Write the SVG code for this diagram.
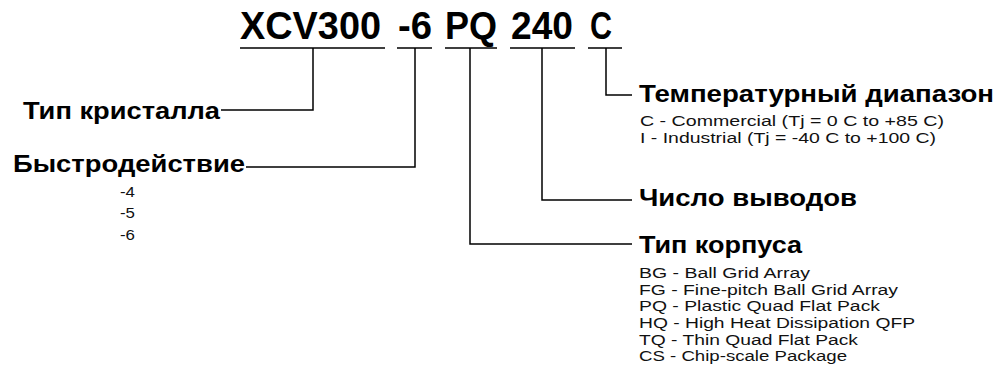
<svg xmlns="http://www.w3.org/2000/svg" width="1008" height="391" viewBox="0 0 1008 391">
<style>
text{font-family:"Liberation Sans",Arial,Helvetica,sans-serif;fill:#000}
.code{font-size:38px;font-weight:bold}
.head{font-size:24px;font-weight:bold}
.sub{font-size:15.5px;fill:#111}
.ln{stroke:#000;stroke-width:1.5;fill:none}
</style>
<rect width="1008" height="391" fill="#fff"/>
<g id="code">
<text class="code" x="240" y="39" textLength="141" lengthAdjust="spacingAndGlyphs">XCV300</text>
<text class="code" x="398" y="39" textLength="34" lengthAdjust="spacingAndGlyphs">-6</text>
<text class="code" x="445" y="39" textLength="52" lengthAdjust="spacingAndGlyphs">PQ</text>
<text class="code" x="511" y="39" textLength="62" lengthAdjust="spacingAndGlyphs">240</text>
<text class="code" x="590" y="39" textLength="22" lengthAdjust="spacingAndGlyphs">C</text>
</g>
<g id="connectors">
<path class="ln" d="M240 48H385 M397 48H432 M445 48H497 M510 48H575 M588 48H622"/>
<path class="ln" d="M313 48V110H221"/>
<path class="ln" d="M415 48V167H246"/>
<path class="ln" d="M470 48V244H632"/>
<path class="ln" d="M542 48V200H632"/>
<path class="ln" d="M606 48V95H632"/>
</g>
<g id="node-crystal">
<text class="head" x="23" y="119" textLength="197" lengthAdjust="spacingAndGlyphs">Тип кристалла</text>
</g>
<g id="node-speed">
<text class="head" x="13" y="172" textLength="232" lengthAdjust="spacingAndGlyphs">Быстродействие</text>
<text class="sub" x="120" y="197" textLength="15" lengthAdjust="spacingAndGlyphs">-4</text>
<text class="sub" x="120" y="218" textLength="15" lengthAdjust="spacingAndGlyphs">-5</text>
<text class="sub" x="120" y="240" textLength="15" lengthAdjust="spacingAndGlyphs">-6</text>
</g>
<g id="node-temp">
<text class="head" x="639" y="102" textLength="355" lengthAdjust="spacingAndGlyphs">Температурный диапазон</text>
<text class="sub" x="640" y="126" textLength="304" lengthAdjust="spacingAndGlyphs">C - Commercial (Tj = 0 C to +85 C)</text>
<text class="sub" x="640" y="143" textLength="296" lengthAdjust="spacingAndGlyphs">I - Industrial (Tj = -40 C to +100 C)</text>
</g>
<g id="node-pins">
<text class="head" x="639" y="206" textLength="218" lengthAdjust="spacingAndGlyphs">Число выводов</text>
</g>
<g id="node-package">
<text class="head" x="639" y="253" textLength="163" lengthAdjust="spacingAndGlyphs">Тип корпуса</text>
<text class="sub" x="639" y="278" textLength="171" lengthAdjust="spacingAndGlyphs">BG - Ball Grid Array</text>
<text class="sub" x="639" y="295" textLength="259" lengthAdjust="spacingAndGlyphs">FG - Fine-pitch Ball Grid Array</text>
<text class="sub" x="639" y="311" textLength="241" lengthAdjust="spacingAndGlyphs">PQ - Plastic Quad Flat Pack</text>
<text class="sub" x="639" y="328" textLength="276" lengthAdjust="spacingAndGlyphs">HQ - High Heat Dissipation QFP</text>
<text class="sub" x="639" y="345" textLength="219" lengthAdjust="spacingAndGlyphs">TQ - Thin Quad Flat Pack</text>
<text class="sub" x="639" y="361" textLength="208" lengthAdjust="spacingAndGlyphs">CS - Chip-scale Package</text>
</g>
</svg>
